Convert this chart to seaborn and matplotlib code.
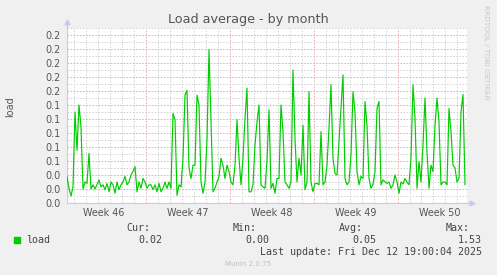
import numpy as np
import pandas as pd
import matplotlib
matplotlib.use("Agg")
import matplotlib.pyplot as plt
import matplotlib.dates as mdates
from matplotlib.ticker import MultipleLocator, FormatStrFormatter
from matplotlib.patches import Rectangle
import seaborn as sns

# ---------------- data ----------------
start_time = "2025-11-09 11:00"
end_time = "2025-12-12 19:00"
sample_step = "4h"
load = [
    0.038, 0.021, 0.010, 0.023, 0.130, 0.075, 0.140, 0.109, 0.020, 0.030,
    0.028, 0.071, 0.020, 0.026, 0.020, 0.026, 0.033, 0.023, 0.026, 0.019,
    0.028, 0.016, 0.030, 0.026, 0.014, 0.030, 0.019, 0.026, 0.030, 0.038,
    0.026, 0.030, 0.040, 0.045, 0.052, 0.016, 0.030, 0.021, 0.035, 0.030,
    0.021, 0.026, 0.026, 0.019, 0.026, 0.016, 0.028, 0.016, 0.021, 0.030,
    0.021, 0.030, 0.021, 0.128, 0.119, 0.011, 0.026, 0.023, 0.064, 0.154,
    0.161, 0.050, 0.035, 0.054, 0.054, 0.154, 0.140, 0.030, 0.014, 0.030,
    0.090, 0.219, 0.120, 0.016, 0.021, 0.030, 0.038, 0.064, 0.054, 0.035,
    0.054, 0.045, 0.030, 0.026, 0.054, 0.119, 0.064, 0.026, 0.064, 0.121,
    0.164, 0.016, 0.016, 0.026, 0.083, 0.116, 0.140, 0.026, 0.023, 0.021,
    0.060, 0.133, 0.021, 0.028, 0.014, 0.035, 0.035, 0.140, 0.102, 0.030,
    0.026, 0.021, 0.030, 0.190, 0.092, 0.030, 0.064, 0.040, 0.111, 0.019,
    0.030, 0.159, 0.030, 0.016, 0.028, 0.028, 0.026, 0.102, 0.026, 0.030,
    0.054, 0.107, 0.169, 0.064, 0.042, 0.040, 0.088, 0.135, 0.183, 0.035,
    0.026, 0.030, 0.069, 0.159, 0.130, 0.045, 0.026, 0.038, 0.035, 0.145,
    0.111, 0.035, 0.021, 0.026, 0.045, 0.135, 0.145, 0.026, 0.033, 0.030,
    0.028, 0.030, 0.021, 0.026, 0.040, 0.030, 0.014, 0.030, 0.027, 0.035,
    0.030, 0.026, 0.064, 0.169, 0.121, 0.021, 0.059, 0.030, 0.083, 0.150,
    0.073, 0.021, 0.054, 0.045, 0.111, 0.150, 0.116, 0.026, 0.030, 0.030,
    0.026, 0.135, 0.102, 0.054, 0.050, 0.030, 0.035, 0.130, 0.155, 0.026,
]
week_labels = ["Week 46", "Week 47", "Week 48", "Week 49", "Week 50"]
week_centers = ["2025-11-12 12:00", "2025-11-19 12:00", "2025-11-26 12:00",
                "2025-12-03 12:00", "2025-12-10 12:00"]
stat_names = ["Cur:", "Min:", "Avg:", "Max:"]
stat_values = ["0.02", "0.00", "0.05", "1.53"]
series_name = "load"
title = "Load average - by month"
last_update = "Last update: Fri Dec 12 19:00:04 2025"
footer = "Munin 2.0.75"
side_text = "RRDTOOL / TOBI OETIKER"

# ---------------- figure ----------------
times = pd.date_range(start_time, periods=len(load), freq=sample_step)
df = pd.DataFrame({"time": times, "load": load})

sns.set_style("white")
plt.rcParams["font.family"] = ["DejaVu Sans"]

W, H = 497, 275
fig = plt.figure(figsize=(W / 100, H / 100), dpi=100, facecolor="#F0F0F0")
ax = fig.add_axes([67 / W, 1 - 203 / H, 400 / W, 175 / H])
ax.set_facecolor("white")

sns.lineplot(data=df, x="time", y="load", ax=ax, color="#00CC00",
             linewidth=0.85, zorder=3)

ax.set_xlim(pd.Timestamp(start_time), pd.Timestamp(end_time))
ax.set_ylim(0, 0.25)
ax.set_xlabel("")
ax.set_ylabel("")

# grid
ax.set_axisbelow(True)
dash = (0, (1.6, 1.6))
ax.xaxis.set_major_locator(mdates.WeekdayLocator(byweekday=mdates.SU))
ax.xaxis.set_minor_locator(mdates.DayLocator())
ax.xaxis.set_major_formatter(plt.NullFormatter())
ax.yaxis.set_major_locator(MultipleLocator(0.02))
ax.yaxis.set_minor_locator(MultipleLocator(0.01))
ax.yaxis.set_major_formatter(FormatStrFormatter("%.1f"))

ax.grid(which="minor", color="#d4d4d4", linestyle=dash, linewidth=0.7)
ax.grid(which="major", color="#eca8a8", linestyle=dash, linewidth=0.7)

ax.tick_params(axis="y", which="major", labelsize=6.9, labelcolor="#555555",
               length=2, width=0.6, color="#bbbbbb", pad=2.5)
ax.tick_params(axis="y", which="minor", length=1.5, width=0.6, color="#cccccc")
ax.tick_params(axis="x", which="major", length=2, width=0.6, color="#e08080")
ax.tick_params(axis="x", which="minor", length=1.5, width=0.6, color="#cccccc")

for s in ["top", "right"]:
    ax.spines[s].set_visible(False)
for s in ["left", "bottom"]:
    ax.spines[s].set_color("#c8c8f0")
    ax.spines[s].set_linewidth(0.8)

# arrows
ax.plot([0, 0], [1, 1.035], transform=ax.transAxes, color="#c8c8f0",
        lw=0.8, clip_on=False)
ax.plot([0], [1.035], transform=ax.transAxes, marker="^", ms=3.5,
        color="#c8c8f0", clip_on=False)
ax.plot([1, 1.012], [0, 0], transform=ax.transAxes, color="#c8c8f0",
        lw=0.8, clip_on=False)
ax.plot([1.012], [0], transform=ax.transAxes, marker=">", ms=3.5,
        color="#c8c8f0", clip_on=False)

# week labels
xt = ax.get_xaxis_transform()
for lab, c in zip(week_labels, week_centers):
    ax.text(mdates.date2num(pd.Timestamp(c)), -10 / 175, lab, transform=xt,
            ha="center", va="center", fontsize=6.9, color="#555555")

# title and axis label
fig.text(248 / W, 1 - 19 / H, title, ha="center", va="center",
         fontsize=9.2, color="#555555")
fig.text(10 / W, 1 - 107 / H, series_name, rotation=90, ha="center",
         va="center", fontsize=6.9, color="#555555")
fig.text(486 / W, 1 - 52 / H, side_text, rotation=270, ha="center",
         va="center", fontsize=5.3, color="#c8c8c8")

# legend
mono = "DejaVu Sans Mono"
fig.patches.append(Rectangle((14 / W, 1 - 243 / H), 6 / W, 6 / H,
                             transform=fig.transFigure, color="#00CC00"))
fig.text(26 / W, 1 - 240 / H, series_name, ha="left", va="center",
         family=mono, fontsize=7.2, color="#444444")
name_right = [150, 257, 363, 470]
val_right = [162, 269, 376, 482]
for n, v, nx, vx in zip(stat_names, stat_values, name_right, val_right):
    fig.text(nx / W, 1 - 228 / H, n, ha="right", va="center",
             family=mono, fontsize=7.2, color="#444444")
    fig.text(vx / W, 1 - 240 / H, v, ha="right", va="center",
             family=mono, fontsize=7.2, color="#444444")
fig.text(482 / W, 1 - 252 / H, last_update, ha="right", va="center",
         family=mono, fontsize=7.2, color="#444444")
fig.text(248 / W, 1 - 264 / H, footer, ha="center", va="center",
         fontsize=5, color="#c0c0c0")

fig.savefig("out.png", dpi=100, facecolor=fig.get_facecolor())
